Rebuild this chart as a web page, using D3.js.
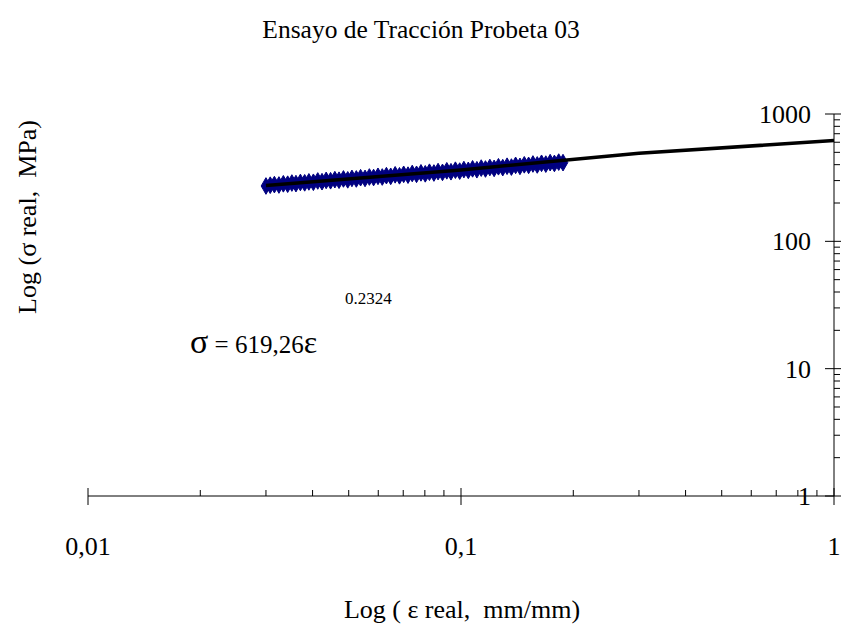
<!DOCTYPE html>
<html>
<head>
<meta charset="utf-8">
<script src="https://cdn.jsdelivr.net/npm/d3@7"></script>
<style>
  body { margin: 0; background: #fff; }
  text, tspan { font-family: "Liberation Serif", "Times New Roman", serif; fill: #000; white-space: pre; }
</style>
</head>
<body>
<div id="chart"></div>
<script>
// measured points (strain mm/mm, true stress MPa)
var strain = [0.0300, 0.0308, 0.0316, 0.0325, 0.0334, 0.0343, 0.0352, 0.0361, 0.0371, 0.0381,
              0.0391, 0.0402, 0.0413, 0.0424, 0.0435, 0.0447, 0.0459, 0.0471, 0.0484, 0.0497,
              0.0510, 0.0524, 0.0538, 0.0553, 0.0568, 0.0583, 0.0599, 0.0615, 0.0631, 0.0648,
              0.0666, 0.0684, 0.0702, 0.0721, 0.0740, 0.0760, 0.0781, 0.0802, 0.0823, 0.0846,
              0.0868, 0.0892, 0.0916, 0.0940, 0.0966, 0.0992, 0.1018, 0.1046, 0.1074, 0.1103,
              0.1133, 0.1163, 0.1195, 0.1227, 0.1260, 0.1294, 0.1329, 0.1365, 0.1401, 0.1439,
              0.1478, 0.1518, 0.1559, 0.1601, 0.1644, 0.1688, 0.1734, 0.1780, 0.1828, 0.1877];
var stress = [272, 276, 279, 277, 283, 281, 287, 284, 290, 288,
              293, 291, 298, 294, 301, 299, 305, 302, 309, 304,
              312, 309, 316, 312, 320, 317, 324, 320, 328, 324,
              333, 327, 336, 331, 341, 336, 345, 339, 349, 344,
              353, 348, 358, 352, 362, 356, 366, 361, 371, 365,
              376, 370, 380, 374, 385, 379, 389, 383, 395, 388,
              399, 395, 405, 398, 410, 404, 415, 409, 419, 415];

// power trendline
var trendStrain = [0.03, 0.1, 0.3, 1.0];
var trendStress = [274, 364, 491, 619];

var xTicks = [0.01, 0.1, 1];
var xTickLabels = ["0,01", "0,1", "1"];
var yTicks = [1, 10, 100, 1000];
var yTickLabels = ["1", "10", "100", "1000"];

var width = 842, height = 626;

var svg = d3.select("#chart")
    .append("svg")
    .attr("width", width)
    .attr("height", height);

var x = d3.scaleLog()
    .domain([0.01, 1])
    .range([88, 834]);

var y = d3.scaleLog()
    .domain([1, 1000])
    .range([496, 114]);

// minor ticks 2..9 in each decade
var xMinor = [], yMinor = [];
[0.01, 0.1].forEach(function(d) {
    for (var k = 2; k < 10; k++) xMinor.push(d * k);
});
[1, 10, 100].forEach(function(d) {
    for (var k = 2; k < 10; k++) yMinor.push(d * k);
});

var axisY = y(1), axisX = x(1);

// x axis
var gx = svg.append("g").attr("stroke", "#000").attr("stroke-width", 1);
gx.append("line")
    .attr("x1", x(0.01)).attr("x2", x(1))
    .attr("y1", axisY).attr("y2", axisY);
gx.selectAll(".xmaj").data(xTicks).enter().append("line")
    .attr("x1", d => x(d)).attr("x2", d => x(d))
    .attr("y1", axisY - 8).attr("y2", axisY + 9);
gx.selectAll(".xmin").data(xMinor).enter().append("line")
    .attr("x1", d => x(d)).attr("x2", d => x(d))
    .attr("y1", axisY - 6).attr("y2", axisY);

// y axis (on the right, at x = 1)
var gy = svg.append("g").attr("stroke", "#000").attr("stroke-width", 1);
gy.append("line")
    .attr("x1", axisX).attr("x2", axisX)
    .attr("y1", y(1)).attr("y2", y(1000));
gy.selectAll(".ymaj").data(yTicks).enter().append("line")
    .attr("x1", axisX - 9).attr("x2", axisX + 7)
    .attr("y1", d => y(d)).attr("y2", d => y(d));
gy.selectAll(".ymin").data(yMinor).enter().append("line")
    .attr("x1", axisX).attr("x2", axisX + 6)
    .attr("y1", d => y(d)).attr("y2", d => y(d));

// tick labels
svg.selectAll(".xlab").data(xTicks).enter().append("text")
    .attr("x", d => x(d))
    .attr("y", 555)
    .attr("text-anchor", "middle")
    .style("font-size", "26px")
    .text((d, i) => xTickLabels[i]);

svg.selectAll(".ylab").data(yTicks).enter().append("text")
    .attr("x", 811)
    .attr("y", d => y(d) + 9)
    .attr("text-anchor", "end")
    .style("font-size", "26px")
    .text((d, i) => yTickLabels[i]);

// data markers (diamonds)
svg.append("g")
    .selectAll("path")
    .data(strain)
    .enter()
    .append("path")
    .attr("transform", (d, i) => "translate(" + x(d) + "," + y(stress[i]) + ")")
    .attr("d", d3.symbol().type(d3.symbolDiamond).size(80))
    .attr("fill", "#000080")
    .attr("stroke", "#000080")
    .attr("stroke-width", 1);

// trendline
var line = d3.line()
    .x(d => x(d))
    .y((d, i) => y(trendStress[i]));

svg.append("path")
    .datum(trendStrain)
    .attr("d", line)
    .attr("fill", "none")
    .attr("stroke", "#000")
    .attr("stroke-width", 3.5);

// titles
svg.append("text")
    .attr("x", 421).attr("y", 38)
    .attr("text-anchor", "middle")
    .style("font-size", "25.5px")
    .text("Ensayo de Tracción Probeta 03");

svg.append("text")
    .attr("transform", "translate(36,217) rotate(-90)")
    .attr("text-anchor", "middle")
    .style("font-size", "26px")
    .text("Log (σ real,  MPa)");

svg.append("text")
    .attr("x", 462).attr("y", 618)
    .attr("text-anchor", "middle")
    .style("font-size", "26px")
    .text("Log ( ε real,  mm/mm)");

// trendline equation
var eq = svg.append("text")
    .attr("x", 190).attr("y", 353)
    .style("font-size", "25px");
eq.append("tspan").style("font-size", "34px").text("σ");
eq.append("tspan").text(" = 619,26");
eq.append("tspan").style("font-size", "32px").text("ε");

svg.append("text")
    .attr("x", 345).attr("y", 304)
    .style("font-size", "17px")
    .text("0.2324");
</script>
</body>
</html>
